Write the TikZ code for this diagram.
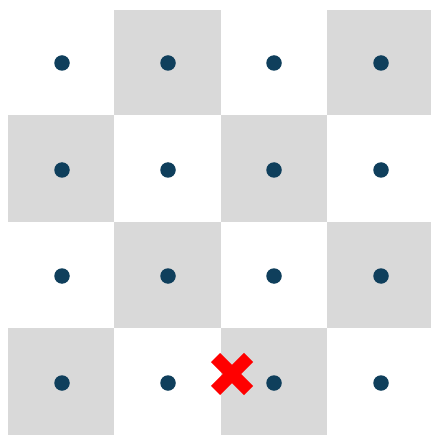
\documentclass[tikz,border=0pt]{standalone}
\usetikzlibrary{calc}
\definecolor{cellgray}{HTML}{D9D9D9}
\definecolor{dotblue}{HTML}{0F3F5C}
\definecolor{xred}{HTML}{FF0000}
\tikzset{
  cell/.style={fill=cellgray, draw=none},
  pt/.style={circle, fill=dotblue, draw=none, minimum size=15.5pt, inner sep=0pt},
  xarm/.style={draw=xred, line width=13pt, line cap=butt},
}
\begin{document}
\begin{tikzpicture}[x=1pt,y=-1pt]
\useasboundingbox (0,0) rectangle (431,435);
% gray cells (checkerboard)
\def\xs{{8,114,221,327,431}}
\def\ys{{10,115,222,328,435}}
\foreach \r in {0,1,2,3}{
  \foreach \c in {0,1,2,3}{
    \pgfmathtruncatemacro{\odd}{mod(\r+\c,2)}
    \ifnum\odd=1
      \pgfmathsetmacro{\xa}{\xs[\c]}
      \pgfmathsetmacro{\xb}{\xs[\c+1]}
      \pgfmathsetmacro{\ya}{\ys[\r]}
      \pgfmathsetmacro{\yb}{\ys[\r+1]}
      \fill[cell] (\xa,\ya) rectangle (\xb,\yb);
    \fi
  }
}
% dots
\def\cx{{62,168,274,381}}
\def\cy{{63,170,276,383}}
\foreach \r in {0,1,2,3}{
  \foreach \c in {0,1,2,3}{
    \pgfmathsetmacro{\px}{\cx[\c]}
    \pgfmathsetmacro{\py}{\cy[\r]}
    \node[pt] (d\r\c) at (\px,\py) {};
  }
}
% red cross
\coordinate (xc) at (232,374);
\draw[xarm] ($(xc)+(-16.5,-16.5)$) -- ($(xc)+(16.5,16.5)$);
\draw[xarm] ($(xc)+(-16.5,16.5)$) -- ($(xc)+(16.5,-16.5)$);
\end{tikzpicture}
\end{document}
